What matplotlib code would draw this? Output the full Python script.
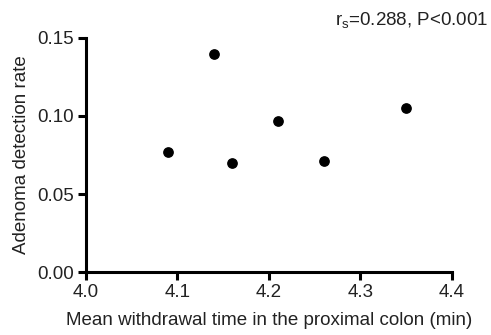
import matplotlib
matplotlib.use("Agg")
import matplotlib.pyplot as plt

# mean withdrawal time (min) vs adenoma detection rate
withdrawal_time = [4.09, 4.14, 4.16, 4.21, 4.26, 4.35]
detection_rate = [0.077, 0.140, 0.070, 0.097, 0.071, 0.105]

x_ticks = [4.0, 4.1, 4.2, 4.3, 4.4]
y_ticks = [0.00, 0.05, 0.10, 0.15]

plt.rcParams['font.family'] = ['Liberation Sans', 'DejaVu Sans']
plt.rcParams['mathtext.fontset'] = 'custom'
plt.rcParams['mathtext.rm'] = 'Liberation Sans'
plt.rcParams['mathtext.it'] = 'Liberation Sans'

fs = 13.5
txt = '#222222'

fig = plt.figure(figsize=(4.91, 3.35), dpi=100)
ax = fig.add_axes([0.175, 0.188, 0.7456, 0.6986])

ax.scatter(withdrawal_time, detection_rate, s=45, color='black', zorder=3, clip_on=False)

ax.set_xlim(4.0, 4.4)
ax.set_ylim(0, 0.15)
ax.set_xticks(x_ticks)
ax.set_xticklabels([f"{t:.1f}" for t in x_ticks])
ax.set_yticks(y_ticks)
ax.set_yticklabels([f"{t:.2f}" for t in y_ticks])

for s in ['top', 'right']:
    ax.spines[s].set_visible(False)
for s in ['left', 'bottom']:
    ax.spines[s].set_linewidth(2.2)
    ax.spines[s].set_capstyle('projecting')

ax.tick_params(axis='both', direction='out', length=6, width=2.2, labelsize=fs,
               colors='black', labelcolor=txt, pad=2.5)

ax.set_xlabel('Mean withdrawal time in the proximal colon (min)', fontsize=fs,
              color=txt, labelpad=8)
ax.set_ylabel('Adenoma detection rate', fontsize=fs, color=txt, labelpad=5)

fig.text(0.995, 0.924, r'r$_{\mathrm{s}}$=0.288, P<0.001', ha='right', va='baseline',
         fontsize=fs, color=txt)

fig.savefig('out.png', dpi=100)
